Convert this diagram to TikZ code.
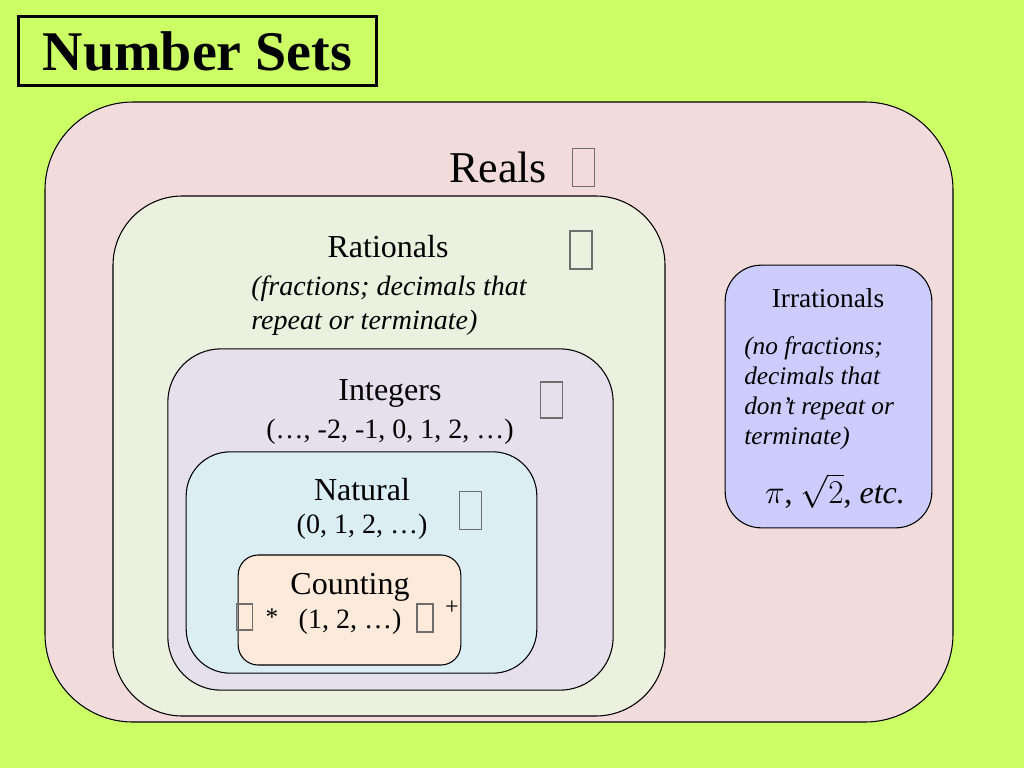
\documentclass[tikz,border=0pt]{standalone}
\usepackage{fontspec}
\setmainfont{Liberation Serif}[
  ItalicFont={Liberation Serif Italic},
  BoldFont={Liberation Serif Bold},
  BoldItalicFont={Liberation Serif Bold Italic}]
\usepackage{tikz}
\usetikzlibrary{positioning}
\definecolor{limebg}{HTML}{CCFF66}
\definecolor{realpink}{HTML}{F2DCDB}
\definecolor{ratgreen}{HTML}{EBF1DE}
\definecolor{intlilac}{HTML}{E5E0EC}
\definecolor{natblue}{HTML}{DBEEF4}
\definecolor{cntpeach}{HTML}{FDEADA}
\definecolor{irrblue}{HTML}{CCCCFF}
\definecolor{tofugray}{HTML}{6E6E6E}

\begin{document}
\begin{tikzpicture}[
    x=0.75pt, y=-0.75pt,
    setbox/.style={
      draw=black, line width=0.8pt, fill=#1, inner sep=0pt,
    },
    setname/.style={font=\fontsize{24}{28}\selectfont, inner sep=0pt},
    setlist/.style={font=\fontsize{21}{25}\selectfont, inner sep=0pt},
    setnote/.style={font=\fontsize{21}{25.5}\selectfont\itshape, align=left, inner sep=0pt},
    tofu/.style={draw=tofugray, line width=0.9pt, inner sep=0pt,
      minimum width=#1},
  ]

  % background and frame
  \fill[limebg] (0,0) rectangle (1024,768);
  \useasboundingbox (0,0) rectangle (1024,768);

  % =================== Title ===================
  \node[draw=black, line width=2.3pt, minimum width=269pt, minimum height=52pt,
        font=\fontsize{42}{48}\selectfont\bfseries] (title) at (197.5,51) {Number Sets};

  % =================== Nested sets ===================
  \node[setbox=realpink, rounded corners=66pt, minimum width=681pt, minimum height=465pt]
    (reals) at (499,412) {};
  \node[setbox=ratgreen, rounded corners=52pt, minimum width=414pt, minimum height=390pt]
    (rationals) at (389,456) {};
  \node[setbox=intlilac, rounded corners=40pt, minimum width=334pt, minimum height=256pt]
    (integers) at (390.5,519.5) {};
  \node[setbox=natblue, rounded corners=33pt, minimum width=263pt, minimum height=166pt]
    (natural) at (361.5,562.5) {};
  \node[setbox=cntpeach, rounded corners=15pt, minimum width=167pt, minimum height=82.5pt]
    (counting) at (349.5,610) {};
  \node[setbox=irrblue, rounded corners=27pt, minimum width=155pt, minimum height=197pt]
    (irrationals) at (828.5,396.5) {};

  % Reals
  \node[font=\fontsize{33}{40}\selectfont, inner sep=0pt] (realsname) at (498,167) {Reals};
  \node[tofu=17pt, minimum height=28pt] (realstofu) at (583.5,167.5) {};

  % Rationals
  \node[setname] (ratname) at (388,247) {Rationals};
  \node[tofu=16.5pt, minimum height=28.5pt] (rattofu) at (581,250) {};
  \node[setnote] (ratnote) at (389,306) {(fractions; decimals that\\repeat or terminate)};

  % Integers
  \node[setname] (intname) at (390,393) {Integers};
  \node[setlist] (intlist) at (390,432) {(…, -2, -1, 0, 1, 2, …)};
  \node[tofu=17pt, minimum height=27pt] (inttofu) at (551.5,400) {};

  % Natural
  \node[setname] (natname) at (362,490) {Natural};
  \node[setlist] (natlist) at (362,527) {(0, 1, 2, …)};
  \node[tofu=17pt, minimum height=28pt] (nattofu) at (470.5,510.5) {};

  % Counting
  \node[setname] (cntname) at (350,587) {Counting};
  \node[setlist] (cntlist) at (350,622) {(1, 2, …)};
  \node[tofu=11.5pt, minimum height=19.5pt] (cnttofuL) at (244.5,617) {};
  \node[font=\fontsize{19}{21}\selectfont, inner sep=0pt] (cntstar) at (272,617) {*};
  \node[tofu=12pt, minimum height=21pt] (cnttofuR) at (425,618) {};
  \node[font=\fontsize{18}{21}\selectfont, inner sep=0pt] (cntplus) at (452,608) {+};

  % Irrationals
  \node[font=\fontsize{20.5}{24}\selectfont, inner sep=0pt] (irrname) at (828,298) {Irrationals};
  \node[setnote, font=\fontsize{19}{22.5}\selectfont\itshape, anchor=west]
    (irrnote) at (744,393) {(no fractions;\\decimals that\\don’t repeat or\\terminate)};
  \node[font=\fontsize{24}{28}\selectfont, inner sep=0pt] (irrex) at (835,491)
    {$\pi$, $\sqrt{2}$, \textit{etc.}};

\end{tikzpicture}
\end{document}
